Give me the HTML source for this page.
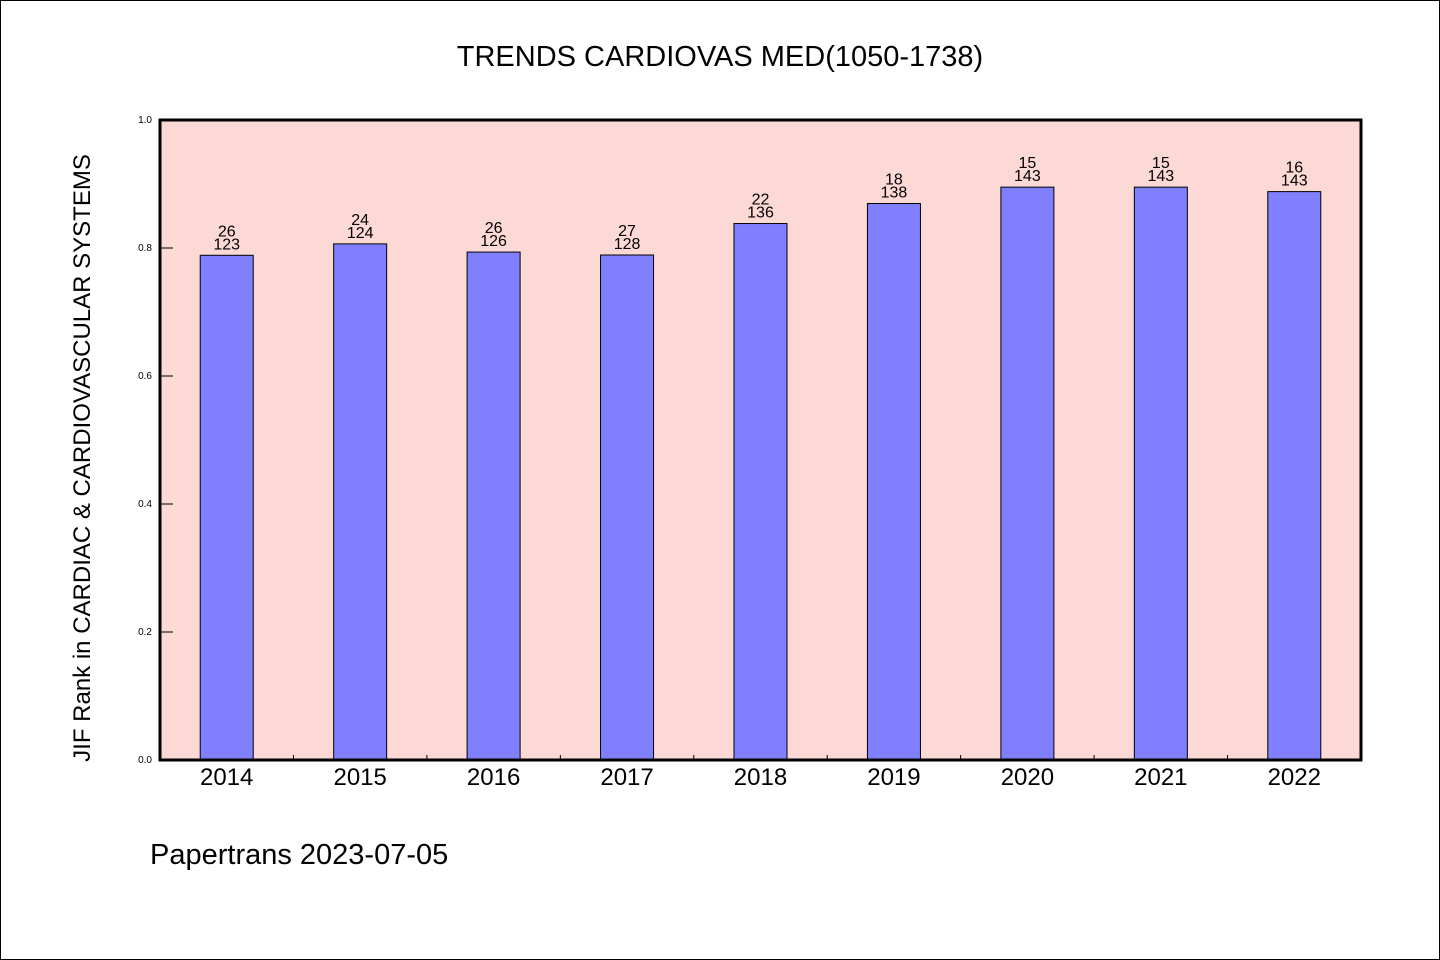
<!DOCTYPE html>
<html><head><meta charset="utf-8"><style>
html,body{margin:0;padding:0;background:#fff;}
svg{display:block;font-family:"WenQuanYi Zen Hei","Liberation Sans",sans-serif;}
</style></head><body>
<svg width="1440" height="960" viewBox="0 0 1440 960">
<rect x="0.5" y="0.5" width="1439" height="959" fill="#fff" stroke="#000"/>
<text x="720" y="66" text-anchor="middle" font-size="29">TRENDS CARDIOVAS MED(1050-1738)</text>
<rect x="160" y="120" width="1201" height="640" fill="#fdd9d6"/>
<g id="bars"></g>
<g id="axes"></g>
<rect x="160" y="120" width="1201" height="640" fill="none" stroke="#000" stroke-width="3"/>
<text transform="translate(90,458) rotate(-90)" text-anchor="middle" font-size="24">JIF Rank in CARDIAC &amp; CARDIOVASCULAR SYSTEMS</text>
<text x="150" y="864" font-size="29">Papertrans 2023-07-05</text>
</svg>
<script>
const years = ["2014","2015","2016","2017","2018","2019","2020","2021","2022"];
const ranks = [26,24,26,27,22,18,15,15,16];
const totals = [123,124,126,128,136,138,143,143,143];
const yTicks = [0,0.2,0.4,0.6,0.8,1.0];
const NS="http://www.w3.org/2000/svg";
const x0=160,x1=1361,y0=760,y1=120;
const band=(x1-x0)/years.length;
const xC=i=>x0+band*(i+0.5);
const yS=v=>y0-(v)*(y0-y1);
function mk(t,a,p){const e=document.createElementNS(NS,t);for(const k in a)e.setAttribute(k,a[k]);p.appendChild(e);return e;}
const gb=document.getElementById('bars'),ga=document.getElementById('axes');
years.forEach((yr,i)=>{
  const v=1-ranks[i]/totals[i];
  const bw=53,cx=xC(i);
  const r=mk('rect',{x:cx-bw/2,y:yS(v),width:bw,height:y0-yS(v),fill:'#8080ff',stroke:'#000','stroke-width':1},gb);
  
  
  const t1=mk('text',{x:cx,y:yS(v)-19,'text-anchor':'middle','font-size':16},gb);
  t1.textContent=ranks[i];
  
  
  const t2=mk('text',{x:cx,y:yS(v)-6,'text-anchor':'middle','font-size':16},gb);
  t2.textContent=totals[i];
  
  
  const xl=mk('text',{x:cx,y:785,'text-anchor':'middle','font-size':24},ga);
  xl.textContent=yr;
  
  
  if(i>0){
    const tk=mk('line',{x1:x0+band*i,x2:x0+band*i,y1:y0,y2:y0-5,stroke:'#000'},ga);
    
    
  }
});
yTicks.forEach(v=>{
  const y=yS(v);
  const l=mk('line',{x1:x0,x2:x0+13,y1:y,y2:y,stroke:'#000'},ga);
  
  
  const t=mk('text',{x:x0-8,y:y+3,'text-anchor':'end','font-size':10},ga);
  t.textContent=v.toFixed(1);
  
  
});
</script>
</body></html>
